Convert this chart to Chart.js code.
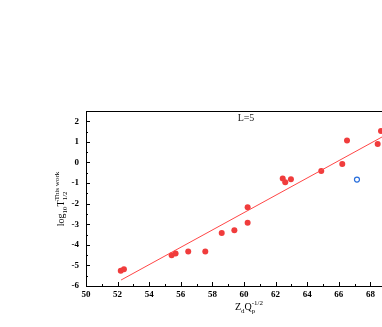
<!DOCTYPE html>
<html>
<head>
  <meta charset="UTF-8">
  <title>log10 T1/2 vs ZdQp^-1/2</title>
  <style>
    html, body { margin: 0; padding: 0; background: #fff; overflow: hidden; }
    .wrap { position: absolute; left: 0; top: 0; width: 410px; height: 327px; }
  </style>
</head>
<body>
  <div class="wrap"><canvas id="grafico" width="410" height="327"></canvas></div>

  <script src="https://cdn.jsdelivr.net/npm/chart.js"></script>
  <script>
    // dados
    const ptsX = [52.2, 52.4, 55.42, 55.67, 56.47, 57.55, 58.59, 59.39, 60.23, 60.23, 62.45, 62.61, 62.97, 64.89, 66.22, 66.52, 68.46, 68.67];
    const ptsY = [-5.26, -5.19, -4.51, -4.42, -4.32, -4.32, -3.42, -3.29, -2.93, -2.18, -0.78, -0.96, -0.81, -0.42, -0.07, 1.07, 0.90, 1.53];
    const outX = [67.15];
    const outY = [-0.83];
    const fitX = [52.22, 70];
    const fitY = [-5.71, 1.77];
    const xTicks = [50, 52, 54, 56, 58, 60, 62, 64, 66, 68, 70];
    const yTicks = [-6, -5, -4, -3, -2, -1, 0, 1, 2];

    const FONT = '"Liberation Serif", "DejaVu Serif", serif';
    const zip = (xs, ys) => xs.map((x, i) => ({ x, y: ys[i] }));

    // texto com índices: partes {t, sub, sup}; sub e sup empilhados no mesmo x
    function richText(c, parts, x, y, size) {
      const small = Math.round(size * 0.7);
      const big = size + 'px ' + FONT, sm = small + 'px ' + FONT;
      const dSub = Math.round(size * 0.3), dSup = -Math.round(size * 0.45);
      const widthOf = p => {
        c.font = big; let w = p.t ? c.measureText(p.t).width : 0;
        c.font = sm;
        const ws = p.sub ? c.measureText(p.sub).width : 0;
        const wp = p.sup ? c.measureText(p.sup).width : 0;
        return w + Math.max(ws, wp);
      };
      let cx = x - parts.reduce((s, p) => s + widthOf(p), 0) / 2;
      parts.forEach(p => {
        if (p.t) { c.font = big; c.fillText(p.t, cx, y); cx += c.measureText(p.t).width; }
        c.font = sm;
        let w = 0;
        if (p.sub) { c.fillText(p.sub, cx, y + dSub); w = c.measureText(p.sub).width; }
        if (p.sup) { c.fillText(p.sup, cx, y + dSup); w = Math.max(w, c.measureText(p.sup).width); }
        cx += w;
      });
    }

    const extras = {
      id: 'extras',
      afterDraw(chart) {
        const c = chart.ctx;
        const a = chart.chartArea;
        const xs = chart.scales.x, ys = chart.scales.y;
        c.save();
        c.strokeStyle = '#000';
        c.lineWidth = 1;
        c.beginPath();
        // eixos e moldura superior
        c.moveTo(a.left + 0.5, a.top); c.lineTo(a.left + 0.5, a.bottom);
        c.moveTo(a.left, a.bottom + 0.5); c.lineTo(a.right, a.bottom + 0.5);
        c.moveTo(a.left, a.top + 0.5); c.lineTo(a.right, a.top + 0.5);
        // ticks para dentro
        for (let v = xs.min; v <= xs.max; v += 1) {
          const px = Math.round(xs.getPixelForValue(v)) + 0.5;
          const len = v % 2 === 0 ? 4 : 2;
          c.moveTo(px, a.bottom); c.lineTo(px, a.bottom - len);
        }
        for (let v = ys.min; v <= ys.max; v += 0.5) {
          const py = Math.round(ys.getPixelForValue(v)) + 0.5;
          const len = Number.isInteger(v) ? 4 : 2;
          c.moveTo(a.left, py); c.lineTo(a.left + len, py);
        }
        c.stroke();

        c.textBaseline = 'alphabetic';
        c.textAlign = 'left';
        c.fillStyle = '#222';
        richText(c, [{ t: 'L=5' }], 246, 121, 10);

        c.fillStyle = '#000';
        richText(c, [{ t: 'Z', sub: 'd' }, { t: 'Q', sub: 'p', sup: '-1/2' }], 249, 310, 10);

        c.translate(64, 199);
        c.rotate(-Math.PI / 2);
        richText(c, [{ t: 'log', sub: '10' }, { t: 'T', sub: '1/2', sup: 'This work' }], 0, 0, 10);
        c.restore();
      }
    };

    new Chart(document.getElementById('grafico').getContext('2d'), {
      type: 'scatter',
      data: {
        datasets: [
          {
            type: 'line',
            data: zip(fitX, fitY),
            borderColor: 'rgb(255,70,70)',
            borderWidth: 1,
            pointRadius: 0,
            fill: false
          },
          {
            data: zip(ptsX, ptsY),
            backgroundColor: 'rgb(240,60,60)',
            borderColor: 'rgb(240,60,60)',
            pointRadius: 3,
            borderWidth: 0
          },
          {
            data: zip(outX, outY),
            backgroundColor: '#fff',
            borderColor: 'rgb(40,110,220)',
            pointRadius: 2.5,
            borderWidth: 1.2
          }
        ]
      },
      options: {
        responsive: false,
        animation: false,
        layout: { padding: { left: 0, top: 111, right: 8, bottom: 0 } },
        plugins: { legend: { display: false }, tooltip: { enabled: false } },
        scales: {
          x: {
            type: 'linear', min: 50, max: 70,
            border: { display: false },
            grid: { display: false, drawTicks: false, tickLength: 0 },
            afterFit(s) { s.height = 41; },
            afterBuildTicks(s) { s.ticks = xTicks.map(v => ({ value: v })); },
            ticks: { padding: 3, color: '#000', font: { family: FONT, size: 9, weight: 'bold' } }
          },
          y: {
            type: 'linear', min: -6, max: 2.5,
            border: { display: false },
            grid: { display: false, drawTicks: false, tickLength: 0 },
            afterFit(s) { s.width = 86; },
            afterBuildTicks(s) { s.ticks = yTicks.map(v => ({ value: v })); },
            ticks: { padding: 7, color: '#000', font: { family: FONT, size: 9, weight: 'bold' } }
          }
        }
      },
      plugins: [extras]
    });
  </script>
</body>
</html>
